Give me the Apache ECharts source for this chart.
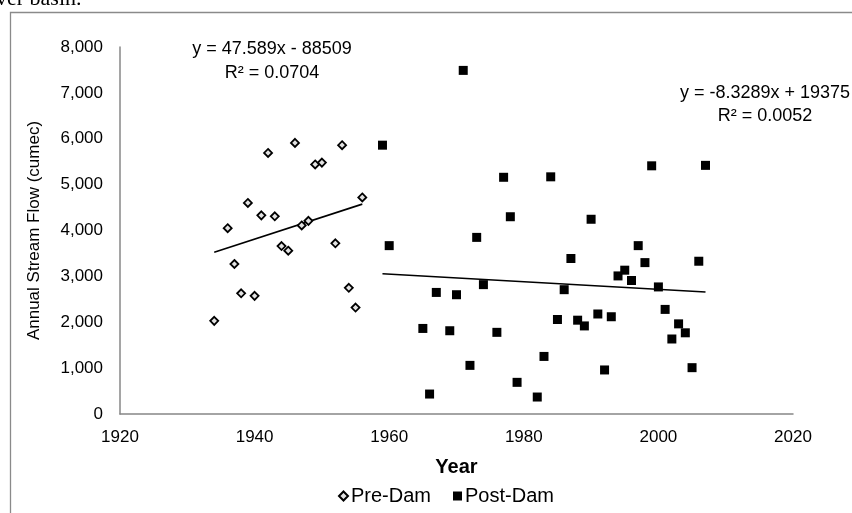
<!DOCTYPE html>
<html>
<head>
<meta charset="utf-8">
<script src="https://cdn.jsdelivr.net/npm/echarts@6/dist/echarts.min.js"></script>
<style>html,body{margin:0;padding:0;background:#fff}#c{width:852px;height:513px}</style>
</head>
<body>
<div id="c"></div>
<script>
// ---- data ----
var preYears = [1934,1936,1937,1938,1939,1940,1941,1942,1943,1944,1945,1946,1947,1948,1949,1950,1952,1953,1954,1955,1956];
var preFlow  = [2030,4050,3270,2630,4600,2575,4330,5690,4310,3660,3560,5910,4110,4210,5440,5480,3720,5860,2750,2320,4720];
var postYears = [1959,1960,1965,1966,1967,1969,1970,1971,1972,1973,1974,1976,1977,1978,1979,1982,1983,1984,1985,1986,1987,1988,1989,1990,1991,1992,1993,1994,1995,1996,1997,1998,1999,2000,2001,2002,2003,2004,2005,2006,2007];
var postFlow  = [5860,3670,1865,435,2650,1815,2600,7490,1060,3850,2820,1780,5160,4300,690,370,1255,5170,2060,2710,3390,2045,1920,4245,2180,960,2120,3010,3135,2910,3670,3300,5410,2770,2280,1635,1965,1770,1010,3330,5420];
var seriesNames = ['Pre-Dam','Post-Dam'];
var trendSlope = [47.589, -8.3289];
var trendIntercept = [-88509, 19375];
var trendText = ['y = 47.589x - 88509', 'y = -8.3289x + 19375'];
var r2Text = ['R\u00B2 = 0.0704', 'R\u00B2 = 0.0052'];
var xTicks = [1920, 2020, 20];
var yTicks = [0, 8000, 1000];

function pairs(xs, ys){ return xs.map(function(x,i){ return [x, ys[i]]; }); }
function trend(xs, k){
  var a = Math.min.apply(null, xs), b = Math.max.apply(null, xs);
  return [[a, trendSlope[k]*a + trendIntercept[k]], [b, trendSlope[k]*b + trendIntercept[k]]];
}

var FONT = 'Liberation Sans';
var chart = echarts.init(document.getElementById('c'));
chart.setOption({
  animation: false,
  backgroundColor: '#fff',
  grid: {left: 120, top: 47, width: 673, height: 367, containLabel: false},
  xAxis: {
    type: 'value', min: xTicks[0], max: xTicks[1], interval: xTicks[2],
    name: 'Year', nameLocation: 'middle', nameGap: 43,
    nameTextStyle: {fontFamily: FONT, fontSize: 20, fontWeight: 'bold', color: '#000'},
    axisLine: {show: true, onZero: false, lineStyle: {color: '#878787', width: 1.5}},
    axisTick: {show: false},
    splitLine: {show: false},
    axisLabel: {fontFamily: FONT, fontSize: 17, color: '#000', margin: 15,
      formatter: function(v){ return String(v); }}
  },
  yAxis: {
    type: 'value', min: yTicks[0], max: yTicks[1], interval: yTicks[2],
    name: 'Annual Stream Flow (cumec)', nameLocation: 'middle', nameGap: 77,
    nameTextStyle: {fontFamily: FONT, fontSize: 17, color: '#000'},
    axisLine: {show: true, lineStyle: {color: '#878787', width: 1.5}},
    axisTick: {show: false},
    splitLine: {show: false},
    axisLabel: {fontFamily: FONT, fontSize: 17, color: '#000', margin: 17,
      formatter: function(v){ return v.toLocaleString('en-US'); }}
  },
  legend: {
    data: seriesNames, left: 333, top: 481, itemWidth: 9, itemHeight: 9, itemGap: 22,
    textStyle: {fontFamily: FONT, fontSize: 20, color: '#000', padding: [0,0,0,-2]}
  },
  graphic: [
    {type: 'rect', shape: {x: 10.5, y: 12.5, width: 900, height: 600}, style: {fill: 'none', stroke: '#8a8a8a', lineWidth: 1.3}, silent: true},
    {type: 'text', left: -4, top: -12, style: {text: 'ver basin.', font: '22px "Liberation Serif"', fill: '#000'}, silent: true},
    {type: 'text', x: 272, y: 49, style: {text: trendText[0], font: '18px "Liberation Sans"', fill: '#000', textAlign: 'center', textVerticalAlign: 'middle'}, silent: true},
    {type: 'text', x: 272, y: 73, style: {text: r2Text[0], font: '18px "Liberation Sans"', fill: '#000', textAlign: 'center', textVerticalAlign: 'middle'}, silent: true},
    {type: 'text', x: 765, y: 93, style: {text: trendText[1], font: '18px "Liberation Sans"', fill: '#000', textAlign: 'center', textVerticalAlign: 'middle'}, silent: true},
    {type: 'text', x: 765, y: 116, style: {text: r2Text[1], font: '18px "Liberation Sans"', fill: '#000', textAlign: 'center', textVerticalAlign: 'middle'}, silent: true}
  ],
  series: [
    {name: seriesNames[0], type: 'scatter', data: pairs(preYears, preFlow), symbol: 'diamond', symbolSize: 8,
     itemStyle: {color: '#e2e2e2', borderColor: '#000', borderWidth: 1.8, opacity: 1}, z: 3},
    {name: seriesNames[1], type: 'scatter', data: pairs(postYears, postFlow), symbol: 'rect', symbolSize: 9,
     itemStyle: {color: '#000', opacity: 1}, z: 3},
    {type: 'line', data: trend(preYears, 0), symbol: 'none', silent: true,
     lineStyle: {color: '#000', width: 1.6}, z: 2},
    {type: 'line', data: trend(postYears, 1), symbol: 'none', silent: true,
     lineStyle: {color: '#000', width: 1.6}, z: 2}
  ]
});
</script>
</body>
</html>
